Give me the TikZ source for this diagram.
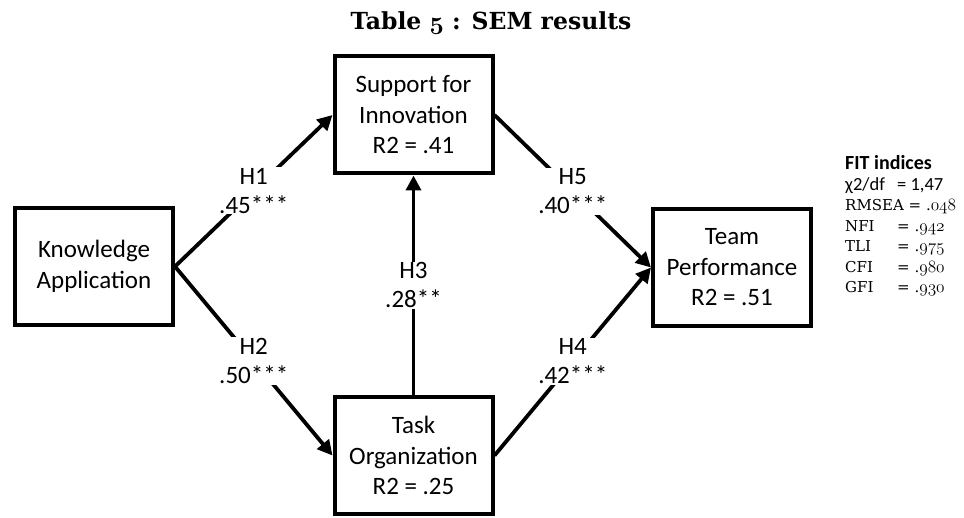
\documentclass[tikz,border=0pt]{standalone}
\usepackage{fontspec}
\newfontfamily\calibri{Carlito}
\newfontfamily\dserif{DejaVu Serif}
\usetikzlibrary{arrows.meta}
\newcommand\osf[1]{{\fontsize{18}{20}\usefont{OML}{cmm}{m}{it}#1}}
\newcommand\osfb[1]{{\fontsize{28}{30}\usefont{OML}{cmm}{b}{it}#1}}
\begin{document}
\begin{tikzpicture}[x=1pt,y=-1pt,
 box/.style={draw,line width=4pt,minimum width=158pt,minimum height=117pt,inner sep=0pt,align=center,font={\calibri\fontsize{25}{30.5}\selectfont}},
 conn/.style={line width=3.8pt,-{Triangle[length=15pt,width=15pt]}},
 lab/.style={fill=white,inner sep=1pt,align=center,font={\calibri\fontsize{25}{29}\selectfont}},
 fitname/.style={anchor=base west,inner sep=0pt,font={\dserif\fontsize{15}{20}\selectfont}},
 fitcal/.style={anchor=base west,inner sep=0pt,font={\calibri\fontsize{18.5}{22}\selectfont}}]
\useasboundingbox[fill=white] (0,0) rectangle (964,518);

\node[font={\dserif\bfseries\fontsize{23.5}{28}\selectfont},anchor=base,inner sep=0pt] (title) at (491,30) {Table \osfb{5} : SEM results};

\node[box] (ka) at (94,266.5) {Knowledge\\Application};
\node[box] (si) at (413.5,115) {Support for\\Innovation\\R2 = .41};
\node[box] (to) at (413.5,455.5) {Task\\Organization\\R2 = .25};
\node[box] (tp) at (732,267.5) {Team\\Performance\\R2 = .51};

\draw[conn] (ka.east) -- node[lab] (l1) {H1\\.45***} (si.west);
\draw[conn] (ka.east) -- node[lab] (l2) {H2\\.50***} (to.west);
\draw[conn] (to.north) -- node[lab] (l3) {H3\\.28**} (si.south);
\draw[conn] (si.east) -- node[lab] (l5) {H5\\.40***} (tp.west);
\draw[conn] (to.east) -- node[lab] (l4) {H4\\.42***} (tp.west);

\node[anchor=base west,inner sep=0pt,font={\calibri\bfseries\fontsize{20}{24}\selectfont}] (fh) at (845,170) {FIT indices};
\node[fitcal] (f1) at (845,191) {χ2/df};
\node[fitcal] (v1) at (897,191) {= 1,47};
\node[fitname] (f2) at (845,211) {RMSEA = .\osf{048}};
\node[fitname] (f3) at (845,231.5) {NFI};
\node[fitname] (v3) at (897,231.5) {= .\osf{942}};
\node[fitname] (f4) at (845,252) {TLI};
\node[fitname] (v4) at (897,252) {= .\osf{975}};
\node[fitname] (f5) at (845,272.5) {CFI};
\node[fitname] (v5) at (897,272.5) {= .\osf{980}};
\node[fitname] (f6) at (845,293) {GFI};
\node[fitname] (v6) at (897,293) {= .\osf{930}};
\end{tikzpicture}
\end{document}
